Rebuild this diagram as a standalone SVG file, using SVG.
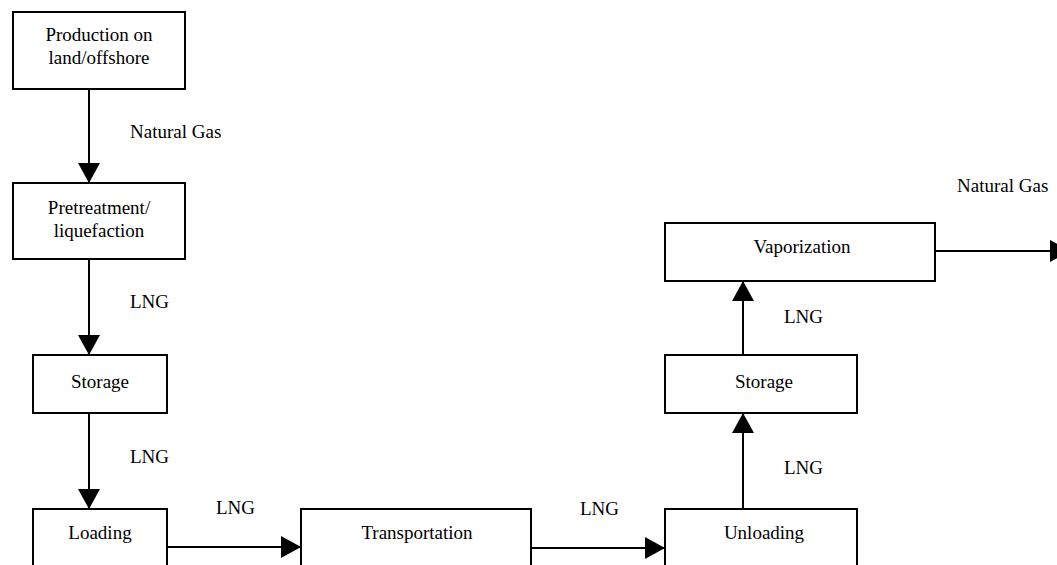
<svg xmlns="http://www.w3.org/2000/svg" width="1057" height="565" viewBox="0 0 1057 565">
<style>
.box{fill:#fff;stroke:#000;stroke-width:2}
.t{font-family:"Liberation Serif","Times New Roman",serif;font-size:19px;fill:#000}
.c{text-anchor:middle}
.conn line{stroke:#000;stroke-width:2}
</style>
<defs>
<marker id="ah" markerUnits="userSpaceOnUse" markerWidth="20" markerHeight="22" refX="20" refY="11" orient="auto" viewBox="0 0 20 22">
<path d="M0,0 L20,11 L0,22 z" fill="#000"/>
</marker>
</defs>
<rect width="1057" height="565" fill="#fff"/>
<g class="conn">
<line x1="89" y1="89" x2="89" y2="183" marker-end="url(#ah)"/>
<line x1="89" y1="259" x2="89" y2="355" marker-end="url(#ah)"/>
<line x1="89" y1="413" x2="89" y2="509" marker-end="url(#ah)"/>
<line x1="167" y1="547" x2="301" y2="547" marker-end="url(#ah)"/>
<line x1="531" y1="548" x2="665" y2="548" marker-end="url(#ah)"/>
<line x1="743" y1="509" x2="743" y2="413" marker-end="url(#ah)"/>
<line x1="743" y1="355" x2="743" y2="281" marker-end="url(#ah)"/>
<line x1="935" y1="251" x2="1070" y2="251" marker-end="url(#ah)"/>
<text class="t" x="130" y="138">Natural Gas</text>
<text class="t" x="130" y="308">LNG</text>
<text class="t" x="130" y="463">LNG</text>
<text class="t" x="216" y="514">LNG</text>
<text class="t" x="580" y="515">LNG</text>
<text class="t" x="784" y="474">LNG</text>
<text class="t" x="784" y="323">LNG</text>
<text class="t" x="957" y="192">Natural Gas</text>
</g>
<g id="production">
<rect class="box" x="13" y="12" width="172" height="77"/>
<text class="t c" x="99" y="41">Production on</text>
<text class="t c" x="99" y="64">land/offshore</text>
</g>
<g id="pretreatment">
<rect class="box" x="13" y="183" width="172" height="76"/>
<text class="t c" x="99" y="214">Pretreatment/</text>
<text class="t c" x="99" y="237">liquefaction</text>
</g>
<g id="storage1">
<rect class="box" x="33" y="355" width="134" height="58"/>
<text class="t c" x="100" y="388">Storage</text>
</g>
<g id="loading">
<rect class="box" x="33" y="509" width="134" height="80"/>
<text class="t c" x="100" y="539">Loading</text>
</g>
<g id="transportation">
<rect class="box" x="301" y="509" width="230" height="80"/>
<text class="t c" x="417" y="539">Transportation</text>
</g>
<g id="unloading">
<rect class="box" x="665" y="509" width="192" height="80"/>
<text class="t c" x="764" y="539">Unloading</text>
</g>
<g id="storage2">
<rect class="box" x="665" y="355" width="192" height="58"/>
<text class="t c" x="764" y="388">Storage</text>
</g>
<g id="vaporization">
<rect class="box" x="665" y="223" width="270" height="58"/>
<text class="t c" x="802" y="253">Vaporization</text>
</g>
</svg>
